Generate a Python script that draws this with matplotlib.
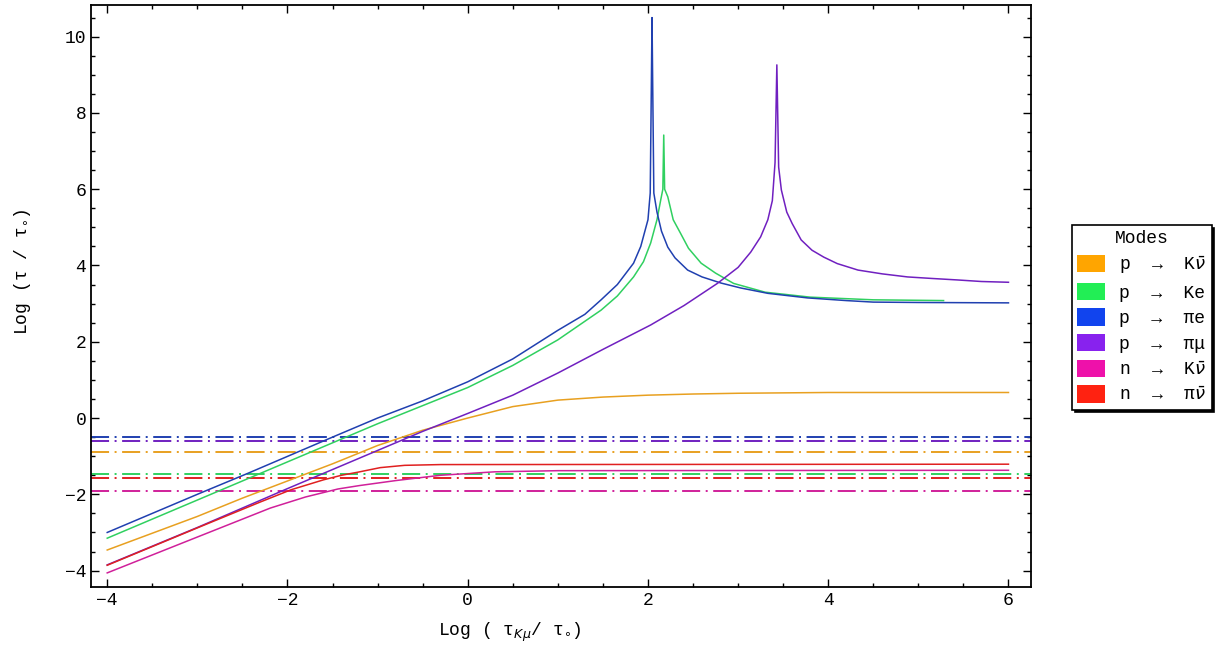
import matplotlib
matplotlib.use("Agg")
import matplotlib.pyplot as plt
from matplotlib.patches import Patch
from matplotlib.ticker import MultipleLocator

# ---------------- data ----------------
modes = ["p  \u2192  K$\\bar{\\nu}$", "p  \u2192  Ke", "p  \u2192  \u03c0e",
         "p  \u2192  \u03c0\u03bc", "n  \u2192  K$\\bar{\\nu}$", "n  \u2192  \u03c0$\\bar{\\nu}$"]

# solid curves: Log(tau/tau0) vs Log(tau_Kmu/tau0)
x_pKnu = [-4, -3, -2.5, -2, -1.5, -1, -0.5, 0, 0.5, 1, 1.5, 2, 2.5, 3, 4, 6]
y_pKnu = [-3.46, -2.58, -2.1, -1.65, -1.2, -0.72, -0.32, 0.0, 0.3, 0.47, 0.55, 0.6, 0.63, 0.65, 0.67, 0.67]

x_pKe = [-4, -3, -2, -1, 0, 0.5, 1, 1.48, 1.66, 1.84, 1.95, 2.03, 2.1, 2.14, 2.165, 2.175, 2.185,
         2.22, 2.28, 2.36, 2.45, 2.59, 2.75, 2.95, 3.3, 3.8, 4.5, 5.28]
y_pKe = [-3.15, -2.15, -1.15, -0.15, 0.8, 1.38, 2.05, 2.83, 3.2, 3.7, 4.1, 4.59, 5.2, 5.7, 6.0, 7.42, 6.0,
         5.8, 5.2, 4.85, 4.45, 4.06, 3.8, 3.53, 3.3, 3.17, 3.1, 3.08]

x_ppie = [-4, -3, -2.44, -1.5, -1, -0.5, 0, 0.5, 1, 1.3, 1.48, 1.66, 1.84, 1.92, 2.0, 2.025, 2.037,
          2.045, 2.053, 2.065, 2.1, 2.15, 2.22, 2.3, 2.44, 2.6, 2.81, 3.03, 3.33, 3.77, 4.2, 4.5, 5.0, 6.0]
y_ppie = [-3.0, -2.0, -1.45, -0.5, 0.0, 0.45, 0.95, 1.55, 2.3, 2.72, 3.1, 3.5, 4.06, 4.5, 5.2, 5.9, 8.6,
          10.5, 8.6, 5.9, 5.4, 4.9, 4.48, 4.2, 3.88, 3.7, 3.54, 3.41, 3.27, 3.15, 3.08, 3.04, 3.03, 3.02]

x_ppimu = [-4, -3, -2, -1, -0.5, 0, 0.5, 1, 1.5, 2.03, 2.4, 2.77, 3.0, 3.14, 3.25, 3.33, 3.38, 3.41,
           3.43, 3.45, 3.48, 3.54, 3.6, 3.7, 3.82, 3.95, 4.1, 4.33, 4.6, 4.88, 5.15, 5.44, 5.7, 6.0]
y_ppimu = [-3.85, -2.87, -1.85, -0.85, -0.35, 0.12, 0.6, 1.18, 1.8, 2.44, 2.95, 3.53, 3.95, 4.35, 4.75,
           5.2, 5.7, 6.7, 9.26, 6.58, 5.98, 5.4, 5.1, 4.67, 4.4, 4.22, 4.05, 3.88, 3.78, 3.7, 3.66,
           3.62, 3.58, 3.56]

x_nKnu = [-4, -3, -2.19, -1.8, -1.44, -1.2, -0.8, -0.3, 0.3, 1.0, 6.0]
y_nKnu = [-4.06, -3.12, -2.36, -2.07, -1.86, -1.77, -1.64, -1.5, -1.41, -1.38, -1.37]

x_npinu = [-4, -3, -2.3, -1.96, -1.6, -1.4, -1.22, -0.97, -0.7, -0.3, 6.0]
y_npinu = [-3.86, -2.88, -2.2, -1.88, -1.62, -1.5, -1.42, -1.3, -1.24, -1.22, -1.21]

# horizontal dash-dot reference levels (same mode order)
levels = [-0.9, -1.48, -0.51, -0.6, -1.91, -1.57]

line_colors = ["#E8A020", "#30D060", "#2040B0", "#7020C0", "#D0209A", "#E02020"]
legend_colors = ["#FFA500", "#22EE55", "#1144EE", "#8822EE", "#EE11AA", "#FF2211"]

xs = [x_pKnu, x_pKe, x_ppie, x_ppimu, x_nKnu, x_npinu]
ys = [y_pKnu, y_pKe, y_ppie, y_ppimu, y_nKnu, y_npinu]

x_ticks = [-4, -2, 0, 2, 4, 6]
y_ticks = [-4, -2, 0, 2, 4, 6, 8, 10]

# ---------------- figure ----------------
plt.rcParams["font.family"] = ["Liberation Mono", "DejaVu Sans Mono", "DejaVu Sans"]
plt.rcParams["lines.scale_dashes"] = False

fig = plt.figure(figsize=(12.25, 6.61), dpi=100)
ax = fig.add_axes([91 / 1225, 1 - 587 / 661, (1031 - 91) / 1225, (587 - 5) / 661])

for lv, c in zip(levels, line_colors):
    ax.axhline(lv, color=c, lw=1.4, dashes=(13, 4, 1.4, 4))

for x, y, c in zip(xs, ys, line_colors):
    ax.plot(x, y, color=c, lw=1.1)

ax.set_xlim(-4.18, 6.25)
ax.set_ylim(-4.43, 10.83)
ax.set_xticks(x_ticks)
ax.set_yticks(y_ticks)
ax.xaxis.set_minor_locator(MultipleLocator(0.5))
ax.yaxis.set_minor_locator(MultipleLocator(0.5))
ax.tick_params(which="both", direction="in", top=True, right=True, width=1.0,
               labelsize=13)
ax.tick_params(which="major", length=6)
ax.tick_params(which="minor", length=3)
for s in ax.spines.values():
    s.set_linewidth(1.3)

ax.set_xlabel("Log ( \u03c4$_{K\\mu}$/ \u03c4$_{\\circ}$)", fontsize=13)
ax.xaxis.set_label_coords((510 - 91) / 940, -(621 - 587) / 582)
ax.set_ylabel("Log (\u03c4 / \u03c4$_{\\circ}$)", fontsize=13)
ax.yaxis.set_label_coords((33 - 91) / 940, (587 - 272) / 582)

handles = [Patch(facecolor=c, edgecolor="none") for c in legend_colors]
leg = fig.legend(handles, modes, loc="upper left",
                 bbox_to_anchor=(1072 / 1225, 1 - 225 / 661),
                 title="Modes", fontsize=13, title_fontsize=13,
                 frameon=True, fancybox=False, edgecolor="black",
                 shadow={"color": "black", "alpha": 1.0},
                 handlelength=1.5, handleheight=1.1, handletextpad=0.8,
                 labelspacing=0.38, borderpad=0.3, borderaxespad=0)
leg.get_frame().set_linewidth(1.2)

fig.savefig("out.png", dpi=100)
